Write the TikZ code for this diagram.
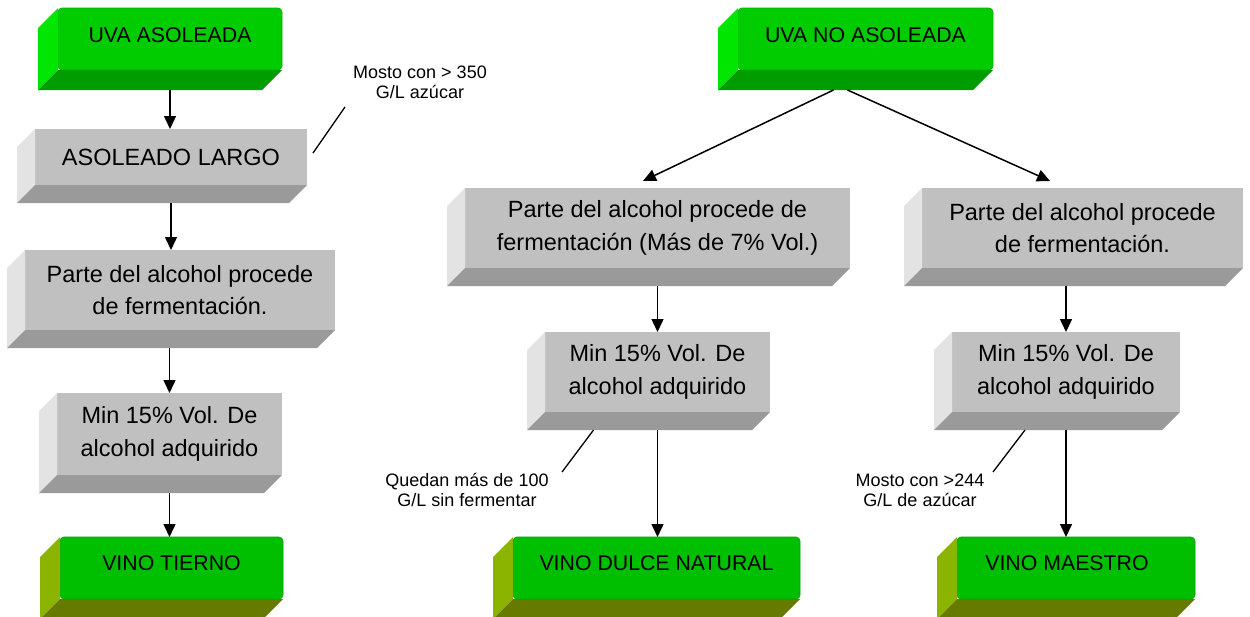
\documentclass[tikz,border=0pt]{standalone}
\usepackage{fontspec}
\setmainfont{Liberation Sans}
\usetikzlibrary{arrows.meta,calc}
\definecolor{gfront}{HTML}{00CC00}
\definecolor{gside}{HTML}{00E600}
\definecolor{gbot}{HTML}{009C00}
\definecolor{vfront}{HTML}{00BE00}
\definecolor{vside}{HTML}{8AB400}
\definecolor{vbot}{HTML}{667A00}
\definecolor{pfront}{HTML}{C0C0C0}
\definecolor{pside}{HTML}{E3E3E3}
\definecolor{pbot}{HTML}{9A9A9A}
\tikzset{
 frontface/.style={inner sep=0pt,outer sep=0pt,align=center},
 graybox/.style={frontface,fill=pfront,font=\fontsize{23.5}{32.5}\selectfont},
 greentop/.style={frontface,fill=gfront,draw=gfront!85!black,line width=0.6pt,rounded corners=4pt},
 greenbot/.style={frontface,fill=vfront,draw=vfront!85!black,line width=0.6pt,rounded corners=4pt},
 gtext/.style={font=\fontsize{21.3}{25}\selectfont,inner sep=0pt},
 note/.style={font=\fontsize{18}{20}\selectfont,align=center,inner sep=0pt},
 arr/.style={line width=1.5pt,-{Triangle[length=13pt,width=12pt]}},
 noteline/.style={line width=1.3pt},
}
\newcommand\bevelfaces[4]{%
 \fill[#3] (#1.north west) -- ++(-#2,#2) -- ($(#1.south west)+(-#2,#2)$) -- (#1.south west) -- cycle;
 \fill[#4] (#1.south west) -- ($(#1.south west)+(-#2,#2)$) -- ($(#1.south east)+(-#2,#2)$) -- (#1.south east) -- cycle;
 \coordinate (#1b) at ($(#1.south)+(0,#2)$);
}
\begin{document}
\begin{tikzpicture}[x=1pt,y=-1pt]
\useasboundingbox (0,0) rectangle (1250,616);
\begin{scope}
\clip (0,0) rectangle (1250,616);
% left column
\node[greentop,minimum width=224pt,minimum height=62pt] (uva1) at (170,39) {};
\bevelfaces{uva1}{20}{gside}{gbot}
\node[gtext] (uva1t) at ([yshift=4pt]uva1.center) {UVA ASOLEADA};

\node[graybox,minimum width=272pt,minimum height=56pt] (asl) at (171,157) {ASOLEADO LARGO};
\bevelfaces{asl}{18}{pside}{pbot}

\node[graybox,minimum width=310pt,minimum height=80pt] (p1) at (180,290) {Parte del alcohol procede\\de fermentación.};
\bevelfaces{p1}{18}{pside}{pbot}

\node[graybox,minimum width=225pt,minimum height=82pt] (m1) at (169.5,434) {Min 15\% Vol. De\\alcohol adquirido};
\bevelfaces{m1}{18}{pside}{pbot}

\node[greenbot,minimum width=223pt,minimum height=62pt] (vt) at (171.5,568) {};
\bevelfaces{vt}{20}{vside}{vbot}
\node[gtext] (vtt) at ([yshift=5pt]vt.center) {VINO TIERNO};

% middle column
\node[greentop,minimum width=255pt,minimum height=62pt] (uva2) at (865.5,39) {};
\bevelfaces{uva2}{20}{gside}{gbot}
\node[gtext] (uva2t) at ([yshift=4pt]uva2.center) {UVA NO ASOLEADA};

\node[graybox,minimum width=385pt,minimum height=80pt] (p2) at (657.5,228) {Parte del alcohol procede de\\fermentación (Más de 7\% Vol.)};
\bevelfaces{p2}{18}{pside}{pbot}

\node[graybox,minimum width=225pt,minimum height=80pt] (m2) at (657.5,372) {Min 15\% Vol. De\\alcohol adquirido};
\bevelfaces{m2}{18}{pside}{pbot}

\node[greenbot,minimum width=287pt,minimum height=62pt] (vd) at (656.5,568) {};
\bevelfaces{vd}{20}{vside}{vbot}
\node[gtext] (vdt) at ([yshift=5pt]vd.center) {VINO DULCE NATURAL};

% right column
\node[graybox,minimum width=321pt,minimum height=80pt] (p3) at (1082.5,228) {Parte del alcohol procede\\de fermentación.};
\bevelfaces{p3}{18}{pside}{pbot}

\node[graybox,minimum width=228pt,minimum height=80pt] (m3) at (1066,372) {Min 15\% Vol. De\\alcohol adquirido};
\bevelfaces{m3}{18}{pside}{pbot}

\node[greenbot,minimum width=238pt,minimum height=62pt] (vm) at (1076,568) {};
\bevelfaces{vm}{20}{vside}{vbot}
\node[gtext] (vmt) at ([shift={(-9pt,5pt)}]vm.center) {VINO MAESTRO};

% arrows
\draw[arr] (uva1b) -- (uva1b |- asl.north);
\draw[arr] (aslb) -- (aslb |- p1.north);
\draw[arr] (m1.north |- p1b) -- (m1.north);
\draw[arr] (m1b) -- (m1b |- vt.north);
\draw[arr] ([xshift=-32pt]uva2b) -- ([shift={(-14.5,-7)}]p2.north);
\draw[arr] ([xshift=-18pt]uva2b) -- ([shift={(-32.5,-7)}]p3.north);
\draw[arr] (p2b) -- (p2b |- m2.north);
\draw[arr] (m2b) -- (m2b |- vd.north);
\draw[arr] (m3.north |- p3b) -- (m3.north);
\draw[arr] (m3b) -- (m3b |- vm.north);

% notes
\node[note] (n1) at (420,82) {Mosto con > 350\\G/L azúcar};
\coordinate (n1a) at (345,107);
\draw[noteline] (n1a) -- ([shift={(6,-4)}]asl.east);

\node[note] (n2) at (467,490) {Quedan más de 100\\G/L sin fermentar};
\coordinate (n2a) at (562,472);
\draw[noteline] ([xshift=-64pt]m2b) -- (n2a);

\node[note] (n3) at (920,490) {Mosto con >244\\G/L de azúcar};
\coordinate (n3a) at (993,472);
\draw[noteline] ([xshift=-41pt]m3b) -- (n3a);
\end{scope}
\end{tikzpicture}
\end{document}
